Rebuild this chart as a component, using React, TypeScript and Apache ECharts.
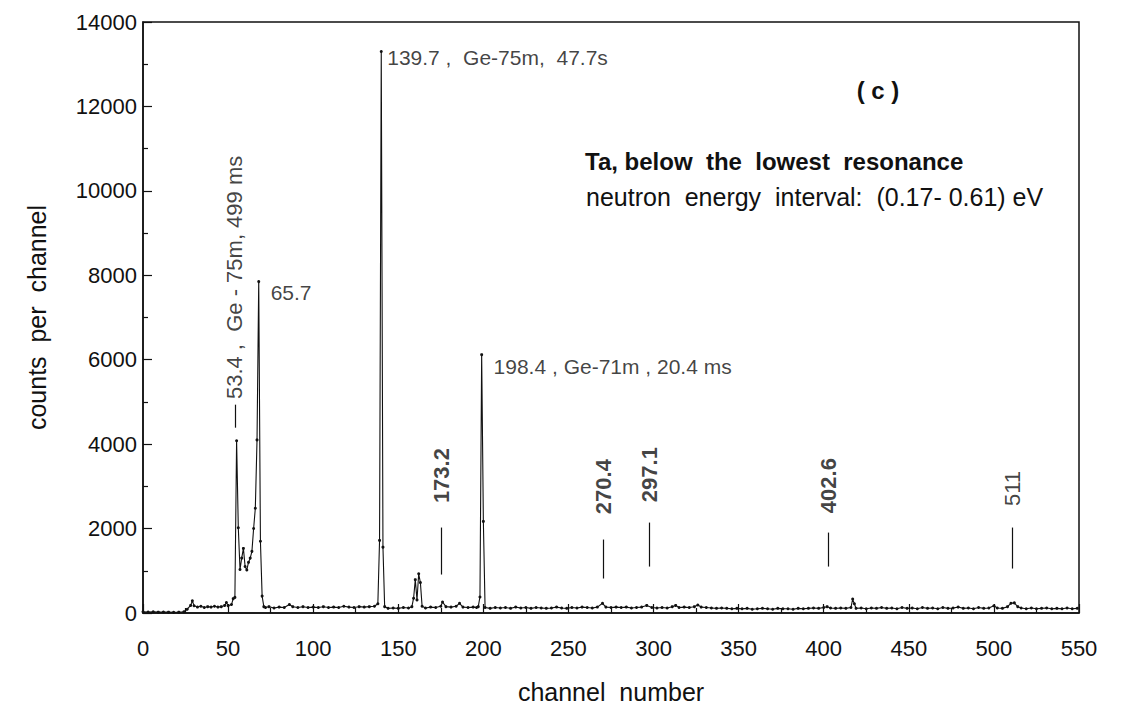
import React, { useEffect, useRef } from "react";
import * as echarts from "echarts";

// ---- data: [channel, counts per channel] ----
const lowRegion: [number, number][] = [
  [0, 30], [3, 25], [6, 30], [9, 20], [12, 25], [15, 20], [18, 15], [21, 20], [24, 30],
  [26, 90], [28, 180], [29, 290], [30, 170], [32, 140], [34, 160], [36, 130], [38, 150],
  [40, 140], [42, 160], [44, 140], [46, 150], [48, 180], [49, 250], [50, 170], [52, 200], [53, 340],
];
const ge75Doublet: [number, number][] = [
  [54, 370], [55, 4080], [56, 2020], [57, 1030], [58, 1300], [59, 1530], [60, 1100],
  [61, 1020], [62, 1200], [63, 1300], [64, 1460], [65, 2000], [66, 2480], [67, 4100],
  [68, 7850], [69, 1700], [70, 400], [71, 150],
];
const midRegion: [number, number][] = [
  [72, 130], [74, 150], [77, 120], [80, 140], [83, 130], [86, 200], [88, 150], [91, 130],
  [94, 150], [97, 130], [100, 140], [103, 130], [106, 150], [109, 130], [112, 140],
  [115, 130], [118, 160], [121, 140], [124, 130], [127, 150], [130, 140], [133, 150],
  [136, 160], [138, 220],
];
const peak140: [number, number][] = [[139, 1720], [140, 13300], [141, 1560], [142, 150]];
const region160to201: [number, number][] = [
  [144, 110], [147, 120], [150, 110], [153, 130], [156, 120], [158, 150], [159, 350],
  [160, 790], [161, 310], [162, 930], [163, 720], [164, 160], [166, 120], [169, 140],
  [172, 130], [175, 160], [176, 260], [178, 150], [181, 140], [184, 160], [186, 230],
  [188, 140], [191, 130], [194, 140], [196, 130], [197, 150], [198, 380], [199, 6120],
  [200, 2170], [201, 130],
];
const highRegionA: [number, number][] = [
  [204, 110], [207, 130], [210, 120], [213, 130], [216, 110], [219, 140], [222, 120],
  [225, 130], [228, 110], [231, 130], [234, 120], [237, 110], [240, 120], [243, 140],
  [246, 120], [249, 110], [252, 130], [255, 120], [258, 140], [261, 130], [264, 120],
  [267, 140], [270, 230], [272, 140], [275, 130], [278, 140], [281, 130], [284, 140],
  [287, 120], [290, 130], [293, 140], [296, 180], [299, 130], [302, 120], [305, 130],
  [308, 120], [311, 150], [313, 180], [315, 130], [318, 140], [321, 130], [324, 150],
  [326, 190], [328, 140], [331, 130], [334, 120], [337, 110], [340, 120], [343, 110],
  [346, 100], [349, 110], [352, 100], [355, 110], [358, 90], [361, 100], [364, 110],
  [367, 100], [370, 90], [373, 110], [376, 100], [379, 100], [382, 90], [385, 110],
];
const highRegionB: [number, number][] = [
  [388, 100], [391, 110], [394, 120], [397, 110], [400, 130], [402, 150], [404, 120],
  [407, 110], [410, 120], [413, 110], [416, 130], [417, 330], [418, 220], [419, 110],
  [422, 120], [425, 100], [428, 120], [431, 110], [434, 130], [437, 110], [440, 120],
  [443, 100], [446, 130], [449, 110], [452, 120], [455, 100], [458, 130], [461, 110],
  [464, 120], [467, 100], [470, 130], [473, 110], [476, 120], [479, 140], [482, 110],
  [485, 120], [488, 100], [491, 130], [494, 110], [497, 120], [500, 170], [502, 120],
  [505, 110], [508, 150], [510, 230], [512, 240], [514, 150], [516, 120], [519, 100],
  [522, 120], [525, 100], [528, 110], [531, 120], [534, 100], [537, 110], [540, 100],
  [543, 120], [546, 100], [549, 110],
];

// peak labels: [channel, counts, text]
const rotatedLabels: [number, number, string][] = [
  [54, 7950, "53.4 ,  Ge - 75m, 499 ms"],
];
const boldLineLabels: [number, number, string][] = [
  [175.5, 3255, "173.2"],
  [270.5, 2994, "270.4"],
  [297.5, 3278, "297.1"],
  [402.6, 3018, "402.6"],
];
const plainLineLabels: [number, number, string][] = [[511, 2950, "511"]];
const sideLabels: [number, number, string][] = [
  [143.5, 13150, "139.7 ,  Ge-75m,  47.7s"],
  [75, 7600, "65.7"],
  [206, 5830, "198.4 , Ge-71m , 20.4 ms"],
];
// marker segments: [channel, from, to]
const markerSegments: [number, number, number][] = [
  [54, 4390, 4935],
  [175.5, 911, 2024],
  [270.5, 817, 1740],
  [297.5, 1100, 2142],
  [402.6, 1100, 1905],
  [511, 1053, 2024],
];

const xTicks = { min: 0, max: 550, interval: 50 };
const yTicks = { min: 0, max: 14000, interval: 2000 };

const FONT = "Liberation Sans";
const INK = "#111";

export default function App() {
  const ref = useRef<HTMLDivElement>(null);
  useEffect(() => {
    if (!ref.current) return;
    const chart = echarts.init(ref.current, undefined, { renderer: "svg" });
    const spectrum = [
      ...lowRegion, ...ge75Doublet, ...midRegion, ...peak140,
      ...region160to201, ...highRegionA, ...highRegionB,
    ];
    const labelData: any[] = [];
    const base = { color: INK, fontFamily: FONT, textBorderWidth: 0, textBorderColor: "transparent" };
    rotatedLabels.forEach(([x, y, t]) =>
      labelData.push({
        value: [x, y],
        label: { ...base, formatter: t, rotate: 90, fontSize: 22, align: "center", verticalAlign: "middle" },
      })
    );
    boldLineLabels.forEach(([x, y, t]) =>
      labelData.push({
        value: [x, y],
        label: { ...base, formatter: t, rotate: 90, fontSize: 22, fontWeight: "bold", align: "center", verticalAlign: "middle" },
      })
    );
    plainLineLabels.forEach(([x, y, t]) =>
      labelData.push({
        value: [x, y],
        label: { ...base, formatter: t, rotate: 90, fontSize: 22, align: "center", verticalAlign: "middle" },
      })
    );
    sideLabels.forEach(([x, y, t]) =>
      labelData.push({
        value: [x, y],
        label: { ...base, formatter: t, fontSize: 21, align: "left", verticalAlign: "middle" },
      })
    );

    chart.setOption({
      animation: false,
      backgroundColor: "#fff",
      textStyle: { fontFamily: FONT, color: INK },
      grid: {
        left: 143, right: 54, top: 22, bottom: 96,
        show: true, borderColor: INK, borderWidth: 1.5,
        containLabel: false, outerBoundsMode: "none",
      },
      xAxis: {
        type: "value",
        min: xTicks.min,
        max: xTicks.max,
        interval: xTicks.interval,
        name: "channel  number",
        nameLocation: "middle",
        nameGap: 66,
        nameTextStyle: { fontSize: 25, color: INK, fontFamily: FONT },
        axisLine: { show: true, lineStyle: { color: INK, width: 1.5 } },
        axisTick: { show: true, inside: true, length: 9, lineStyle: { color: INK, width: 1.2 } },
        minorTick: { show: true, splitNumber: 2, length: 5, lineStyle: { color: INK, width: 1.2 } },
        splitLine: { show: false },
        axisLabel: { fontSize: 22, color: INK, margin: 24, fontFamily: FONT },
      },
      yAxis: {
        type: "value",
        min: yTicks.min,
        max: yTicks.max,
        interval: yTicks.interval,
        name: "counts  per  channel",
        nameLocation: "middle",
        nameGap: 94,
        nameTextStyle: { fontSize: 25, color: INK, fontFamily: FONT },
        axisLine: { show: true, lineStyle: { color: INK, width: 1.5 } },
        axisTick: { show: true, inside: true, length: 9, lineStyle: { color: INK, width: 1.2 } },
        minorTick: { show: true, splitNumber: 2, length: 5, lineStyle: { color: INK, width: 1.2 } },
        splitLine: { show: false },
        axisLabel: {
          fontSize: 22,
          color: INK,
          margin: 6,
          fontFamily: FONT,
          formatter: (v: number) => String(v),
        },
      },
      graphic: [
        {
          type: "text",
          x: 878,
          y: 90,
          style: { text: "( c )", fontSize: 24, fontWeight: "bold", fontFamily: FONT, fill: INK, align: "center", verticalAlign: "middle" },
        },
        {
          type: "text",
          x: 585,
          y: 161,
          style: { text: "Ta, below  the  lowest  resonance", fontSize: 24, fontWeight: "bold", fontFamily: FONT, fill: INK, verticalAlign: "middle" },
        },
        {
          type: "text",
          x: 586,
          y: 197,
          style: { text: "neutron  energy  interval:  (0.17- 0.61) eV", fontSize: 25, fontFamily: FONT, fill: INK, verticalAlign: "middle" },
        },
      ],
      series: [
        {
          type: "line",
          name: "spectrum",
          data: spectrum,
          symbol: "circle",
          symbolSize: 3,
          showSymbol: true,
          lineStyle: { color: INK, width: 1.1 },
          itemStyle: { color: INK },
          silent: true,
          markLine: {
            silent: true,
            symbol: ["none", "none"],
            label: { show: false },
            lineStyle: { color: INK, width: 1.2, type: "solid" },
            data: markerSegments.map(([x, a, b]) => [{ coord: [x, a] }, { coord: [x, b] }]),
          },
        },
        {
          type: "scatter",
          name: "labels",
          data: labelData,
          symbolSize: 0,
          silent: true,
          itemStyle: { color: "transparent" },
          label: { show: true, position: "inside", color: INK, fontFamily: FONT },
        },
      ],
    });
    return () => chart.dispose();
  }, []);
  return (
    <div
      ref={ref}
      style={{ position: "absolute", left: 0, top: 0, width: 1133, height: 709, background: "#fff" }}
    />
  );
}
